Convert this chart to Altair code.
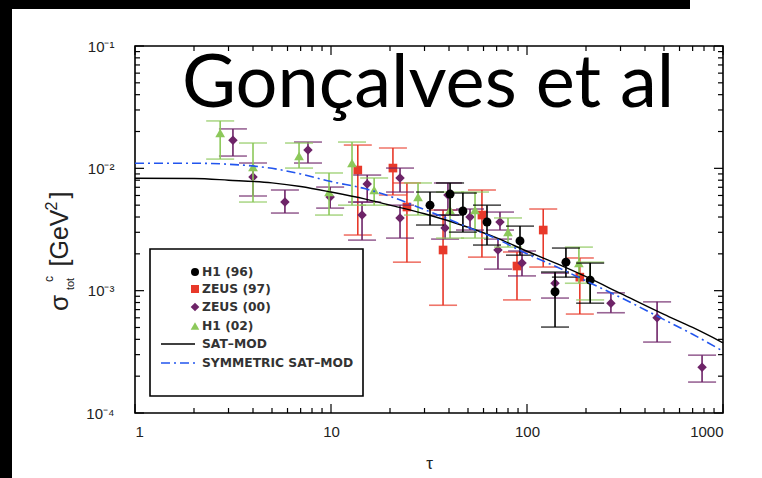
import altair as alt
import pandas as pd

# ---------------- data ----------------
# H1 (96)  black circles
h1_96_tau = [32.0, 40.5, 47.1, 62.5, 92.1, 139, 158, 210]
h1_96_sig = [0.0050, 0.00616, 0.00448, 0.00364, 0.00255, 0.00098, 0.00171, 0.00122]
h1_96_hi = [0.0064, 0.00759, 0.00628, 0.0050, 0.00337, 0.00142, 0.00223, 0.00168]
h1_96_lo = [0.00344, 0.00415, 0.00301, 0.00236, 0.00195, 0.000504, 0.00129, 0.00079]

# ZEUS (97)  red squares
zeus97_tau = [13.7, 20.7, 24.4, 37.3, 58.9, 88.9, 121, 186]
zeus97_sig = [0.00968, 0.01005, 0.00483, 0.00215, 0.00415, 0.00159, 0.00313, 0.00129]
zeus97_hi = [0.0155, 0.01466, 0.00759, 0.00456, 0.00665, 0.00207, 0.00465, 0.00185]
zeus97_lo = [0.00285, 0.00605, 0.00171, 0.00076, 0.00188, 0.00084, 0.00156, 0.000644]

# ZEUS (00)  purple diamonds
zeus00_tau = [3.16, 4.0, 5.82, 7.63, 9.9, 14.4, 15.3, 22.5, 22.5, 38.2, 39.5,
              51.2, 72.8, 71.1, 94.3, 139, 268, 461, 782]
zeus00_sig = [0.0170, 0.0085, 0.0053, 0.0141, 0.00582, 0.00415, 0.00744, 0.00834,
              0.00393, 0.00325, 0.00605, 0.0040, 0.00364, 0.00215, 0.00168,
              0.00115, 0.00079, 0.00060, 0.000237]
zeus00_hi = [0.0210, 0.01105, 0.00665, 0.0164, 0.00703, 0.0053, 0.00881, 0.01005,
             0.0050, 0.00415, 0.00759, 0.00465, 0.00439, 0.00264, 0.00211,
             0.00139, 0.00096, 0.00081, 0.000297]
zeus00_lo = [0.0126, 0.00594, 0.00431, 0.01105, 0.00473, 0.00259, 0.0053, 0.0064,
             0.00269, 0.00264, 0.00456, 0.00313, 0.00313, 0.0015, 0.00132,
             0.00087, 0.00066, 0.00038, 0.000179]

# H1 (02)  green triangles
h1_02_tau = [2.72, 4.0, 6.87, 9.77, 12.8, 16.6, 27.8, 40.5, 54.3, 80.0, 184, 210]
h1_02_sig = [0.01945, 0.01025, 0.0126, 0.0064, 0.01105, 0.00665, 0.00582, 0.00456,
             0.00456, 0.00301, 0.00168, 0.00127]
h1_02_hi = [0.0244, 0.0161, 0.0161, 0.00916, 0.0164, 0.00834, 0.00759, 0.0064,
            0.0064, 0.00393, 0.00227, 0.00171]
h1_02_lo = [0.0119, 0.0053, 0.01005, 0.00415, 0.0050, 0.0050, 0.00415, 0.00269,
            0.00269, 0.00227, 0.00115, 0.00084]

# model curves
curve_tau = [1, 2, 3, 5, 7, 10, 15, 20, 30, 50, 70, 100, 150, 200, 300, 500, 700, 1000]
satmod_sig = [8.3e-3, 8.25e-3, 8.0e-3, 7.6e-3, 7.1e-3, 6.4e-3, 5.6e-3, 5.0e-3, 4.25e-3,
              3.3e-3, 2.7e-3, 2.1e-3, 1.6e-3, 1.3e-3, 9.5e-4, 6.4e-4, 5.0e-4, 3.75e-4]
symsat_sig = [1.1e-2, 1.1e-2, 1.08e-2, 1.0e-2, 9.0e-3, 7.8e-3, 6.8e-3, 5.9e-3, 4.6e-3,
              3.3e-3, 2.65e-3, 2.0e-3, 1.5e-3, 1.2e-3, 8.8e-4, 5.8e-4, 4.4e-4, 3.2e-4]

# axis ticks
x_major = [1, 10, 100, 1000]
x_minor = [m * d for d in [1, 10, 100] for m in range(2, 10)]
y_major = [1e-4, 1e-3, 1e-2, 1e-1]
y_minor = [m * d for d in [1e-4, 1e-3, 1e-2] for m in range(2, 10)]

legend_labels = ["H1 (96)", "ZEUS (97)", "ZEUS (00)", "H1 (02)", "SAT\u2013MOD",
                 "SYMMETRIC SAT\u2013MOD"]
title_text = "Gonçalves et al"

# ---------------- styling ----------------
W, H = 588, 367
BLACK = "#000000"
RED = "#e8392a"
PURPLE = "#6e2468"
GREEN = "#8cc85a"
BLUE = "#2255ee"
FONT = "Liberation Sans"

xscale = alt.Scale(type="log", domain=[1, 1000], nice=False)
yscale = alt.Scale(type="log", domain=[1e-4, 1e-1], nice=False)

xaxis = alt.Axis(values=x_major, labelExpr="format(datum.value, 'd')", ticks=False,
                 domain=False, grid=False, labelFont=FONT, labelFontSize=15,
                 labelColor="#222", labelPadding=11, title="τ", titleFont=FONT,
                 titleFontSize=17, titleFontWeight="normal", titleColor="#222",
                 titlePadding=16)
yaxis = alt.Axis(values=y_major,
                 labelExpr="datum.value < 0.0002 ? '10⁻⁴' : datum.value < 0.002 ? '10⁻³' : datum.value < 0.02 ? '10⁻²' : '10⁻¹'",
                 ticks=False, domain=False, grid=False, labelFont=FONT, labelFontSize=15,
                 labelColor="#222", labelPadding=21, title=None)


def X(field):
    return alt.X(field, type="quantitative", scale=xscale, axis=xaxis)


def Y(field):
    return alt.Y(field, type="quantitative", scale=yscale, axis=yaxis)


def dataset(tau, sig, lo, hi, color, shape, size):
    df = pd.DataFrame({"tau": tau, "sig": sig, "lo": lo, "hi": hi})
    base = alt.Chart(df)
    bars = base.mark_rule(color=color, strokeWidth=1.6).encode(
        x=X("tau"), y=Y("lo"), y2="hi")
    cap_lo = base.mark_tick(color=color, orient="horizontal", size=28,
                            thickness=1.6).encode(x=X("tau"), y=Y("lo"))
    cap_hi = base.mark_tick(color=color, orient="horizontal", size=28,
                            thickness=1.6).encode(x=X("tau"), y=Y("hi"))
    pts = base.mark_point(filled=True, opacity=1, color=color, shape=shape,
                          size=size).encode(x=X("tau"), y=Y("sig"))
    return [bars, cap_lo, cap_hi, pts]


layers = []
layers += dataset(zeus97_tau, zeus97_sig, zeus97_lo, zeus97_hi, RED, "square", 75)
layers += dataset(zeus00_tau, zeus00_sig, zeus00_lo, zeus00_hi, PURPLE, "diamond", 90)
layers += dataset(h1_02_tau, h1_02_sig, h1_02_lo, h1_02_hi, GREEN, "triangle-up", 95)
layers += dataset(h1_96_tau, h1_96_sig, h1_96_lo, h1_96_hi, BLACK, "circle", 80)

curves = pd.DataFrame({"tau": curve_tau, "sat": satmod_sig, "sym": symsat_sig})
layers.append(alt.Chart(curves).mark_line(color=BLACK, strokeWidth=1.4, interpolate="monotone")
              .encode(x=X("tau"), y=Y("sat")))
layers.append(alt.Chart(curves).mark_line(color=BLUE, strokeWidth=1.6, strokeDash=[9, 4, 2, 4],
                                          interpolate="monotone")
              .encode(x=X("tau"), y=Y("sym")))


# inward ticks on all four sides
def xticks(vals, length):
    df = pd.DataFrame({"v": vals})
    b = alt.Chart(df).mark_rule(color=BLACK, strokeWidth=1.2)
    return [b.encode(x=X("v"), y=alt.value(H), y2=alt.value(H - length)),
            b.encode(x=X("v"), y=alt.value(0), y2=alt.value(length))]


def yticks(vals, length):
    df = pd.DataFrame({"v": vals})
    b = alt.Chart(df).mark_rule(color=BLACK, strokeWidth=1.2)
    return [b.encode(y=Y("v"), x=alt.value(0), x2=alt.value(length)),
            b.encode(y=Y("v"), x=alt.value(W), x2=alt.value(W - length))]


layers += xticks(x_major, 9) + xticks(x_minor, 5)
layers += yticks(y_major, 9) + yticks(y_minor, 5)

one = pd.DataFrame({"k": [0]})

# legend (positions relative to plot origin at 135,46)
OX, OY = 135, 46
layers.append(alt.Chart(one).mark_rect(fill="white", stroke=BLACK, strokeWidth=1.6).encode(
    x=alt.value(150 - OX), x2=alt.value(363 - OX), y=alt.value(249 - OY), y2=alt.value(396 - OY)))
leg_rows = [272, 289, 307, 326, 344, 363]
leg_sym = [("circle", BLACK, 64), ("square", RED, 64), ("diamond", PURPLE, 75),
           ("triangle-up", GREEN, 75)]
for i, (shape, col, sz) in enumerate(leg_sym):
    layers.append(alt.Chart(one).mark_point(filled=True, opacity=1, shape=shape, color=col,
                                            size=sz).encode(
        x=alt.value(195 - OX), y=alt.value(leg_rows[i] - OY)))
layers.append(alt.Chart(one).mark_rule(color=BLACK, strokeWidth=1.4).encode(
    x=alt.value(161 - OX), x2=alt.value(195 - OX), y=alt.value(leg_rows[4] - OY)))
layers.append(alt.Chart(one).mark_rule(color=BLUE, strokeWidth=1.6, strokeDash=[9, 4, 2, 4]).encode(
    x=alt.value(161 - OX), x2=alt.value(196 - OX), y=alt.value(leg_rows[5] - OY)))
for i, lab in enumerate(legend_labels):
    layers.append(alt.Chart(one).mark_text(align="left", baseline="middle", font="DejaVu Sans",
                                           fontWeight="bold", fontSize=12.3, color="#333").encode(
        x=alt.value(202 - OX), y=alt.value(leg_rows[i] - OY), text=alt.value(lab)))

# y axis title pieces (rotated)
ytitle = [("σ", 26, 60, 303), ("tot", 11, 71, 284), ("c", 12, 49, 279),
          ("[GeV", 25, 60, 238), ("2", 16, 52, 206), ("]", 25, 60, 195)]
for txt, fs, ax, ay in ytitle:
    layers.append(alt.Chart(one).mark_text(angle=270, align="center", baseline="middle", font=FONT,
                                           fontSize=fs, color="#222").encode(
        x=alt.value(ax - OX), y=alt.value(ay - OY), text=alt.value(txt)))

# big overlay title
layers.append(alt.Chart(one).mark_text(align="left", baseline="alphabetic", font="Lato",
                                       fontSize=74, color=BLACK).encode(
    x=alt.value(182 - OX), y=alt.value(107 - OY), text=alt.value(title_text)))

# black frame bars of the slide screenshot
layers.append(alt.Chart(one).mark_rect(color=BLACK).encode(
    x=alt.value(0 - OX), x2=alt.value(690 - OX), y=alt.value(0 - OY), y2=alt.value(9 - OY)))
layers.append(alt.Chart(one).mark_rect(color=BLACK).encode(
    x=alt.value(0 - OX), x2=alt.value(12 - OX), y=alt.value(0 - OY), y2=alt.value(478 - OY)))

chart = alt.layer(*layers).properties(
    width=W, height=H,
    autosize=alt.AutoSizeParams(type="none"),
    padding={"left": OX, "top": OY, "right": 762 - OX - W, "bottom": 478 - OY - H},
    background="white",
).configure_view(stroke=BLACK, strokeWidth=1.6)

chart.save("out.html", embed_options={"renderer": "svg", "actions": False})
